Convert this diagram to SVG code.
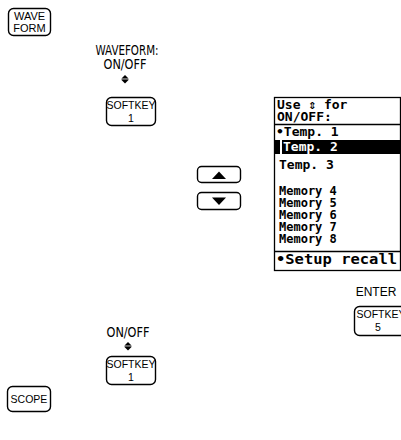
<svg xmlns="http://www.w3.org/2000/svg" width="401" height="440" viewBox="0 0 401 440">
<defs>
<style>
.key{fill:#fff;stroke:#000;stroke-width:1.4}
.kt{font-family:"Liberation Sans",Arial,sans-serif;font-size:10.5px;fill:#000;text-anchor:middle}
.lbl{font-family:"DejaVu Sans","Liberation Sans",sans-serif;font-size:13.5px;font-stretch:condensed;fill:#000;text-anchor:middle}
.big{font-family:"DejaVu Sans Mono","Liberation Mono",monospace;font-size:13px;font-weight:bold;fill:#000}
.sm{font-family:"DejaVu Sans Mono","Liberation Mono",monospace;font-size:12px;font-weight:bold;fill:#000}
.ln{stroke:#000;stroke-width:1.3;fill:none}
</style>
<g id="updown">
<polygon points="-3.5,3.5 3.5,3.5 0,0" fill="#000"/>
<line x1="-3.5" y1="4.3" x2="3.5" y2="4.3" stroke="#000" stroke-width="0.8"/>
<polygon points="-3.5,5 3.5,5 0,8.5" fill="#000"/>
</g>
</defs>
<rect width="401" height="440" fill="#fff"/>

<g id="key-waveform">
<rect class="key" x="8.5" y="8.5" width="42" height="27" rx="5"/>
<text class="kt" x="29.5" y="20" style="font-size:11px">WAVE</text>
<text class="kt" x="29.5" y="31.5" style="font-size:11px">FORM</text>
</g>

<g id="label-top">
<text class="lbl" x="127" y="55" textLength="63" lengthAdjust="spacingAndGlyphs">WAVEFORM:</text>
<text class="lbl" x="125" y="69" textLength="43" lengthAdjust="spacingAndGlyphs">ON/OFF</text>
<use href="#updown" x="125" y="75"/>
</g>

<g id="softkey1-top">
<rect class="key" x="106.5" y="97.5" width="49" height="28" rx="5"/>
<text class="kt" x="131" y="109">SOFTKEY</text>
<text class="kt" x="131" y="121.5">1</text>
</g>

<g id="key-up">
<rect class="key" x="197.5" y="166.5" width="43" height="16" rx="4"/>
<polygon points="212,179 226,179 219,171.5" fill="#000"/>
</g>
<g id="key-down">
<rect class="key" x="197.5" y="192.5" width="43" height="17" rx="4"/>
<polygon points="212,197.5 226,197.5 219,205" fill="#000"/>
</g>

<g id="screen">
<rect x="274.5" y="97.5" width="126" height="173" fill="#fff" stroke="#000" stroke-width="1.3"/>
<text class="big" x="277" y="109">Use ⇕ for</text>
<text class="big" x="277" y="121">ON/OFF:</text>
<line class="ln" x1="274" y1="124.5" x2="401" y2="124.5"/>
<text class="big" x="276" y="136">•Temp. 1</text>
<rect x="275" y="140" width="5" height="14" fill="#000"/>
<rect x="282" y="140" width="119" height="14" fill="#000"/>
<text class="big" x="283" y="151" style="fill:#fff">Temp. 2</text>
<text class="big" x="279" y="169">Temp. 3</text>
<text class="sm" x="279" y="195">Memory 4</text>
<text class="sm" x="279" y="207">Memory 5</text>
<text class="sm" x="279" y="219">Memory 6</text>
<text class="sm" x="279" y="231">Memory 7</text>
<text class="sm" x="279" y="243">Memory 8</text>
<line class="ln" x1="274" y1="251.5" x2="401" y2="251.5"/>
<text class="big" x="276" y="264" style="font-size:14px" textLength="121" lengthAdjust="spacingAndGlyphs">•Setup recall</text>
</g>

<g id="label-enter">
<text class="kt" x="376" y="296" style="font-size:12px">ENTER</text>
</g>

<g id="softkey5">
<rect class="key" x="354.5" y="306.5" width="60" height="29" rx="5"/>
<text class="kt" x="381" y="318">SOFTKEY</text>
<text class="kt" x="378" y="330.5">5</text>
</g>

<g id="label-bottom">
<text class="lbl" x="128" y="337" textLength="43" lengthAdjust="spacingAndGlyphs">ON/OFF</text>
<use href="#updown" x="128" y="342"/>
</g>

<g id="softkey1-bottom">
<rect class="key" x="106.5" y="356.5" width="49" height="28" rx="5"/>
<text class="kt" x="131" y="368">SOFTKEY</text>
<text class="kt" x="131" y="380.5">1</text>
</g>

<g id="key-scope">
<rect class="key" x="7.5" y="386.5" width="43" height="25" rx="5"/>
<text class="kt" x="29" y="403">SCOPE</text>
</g>

<g id="connectors"></g>
</svg>
